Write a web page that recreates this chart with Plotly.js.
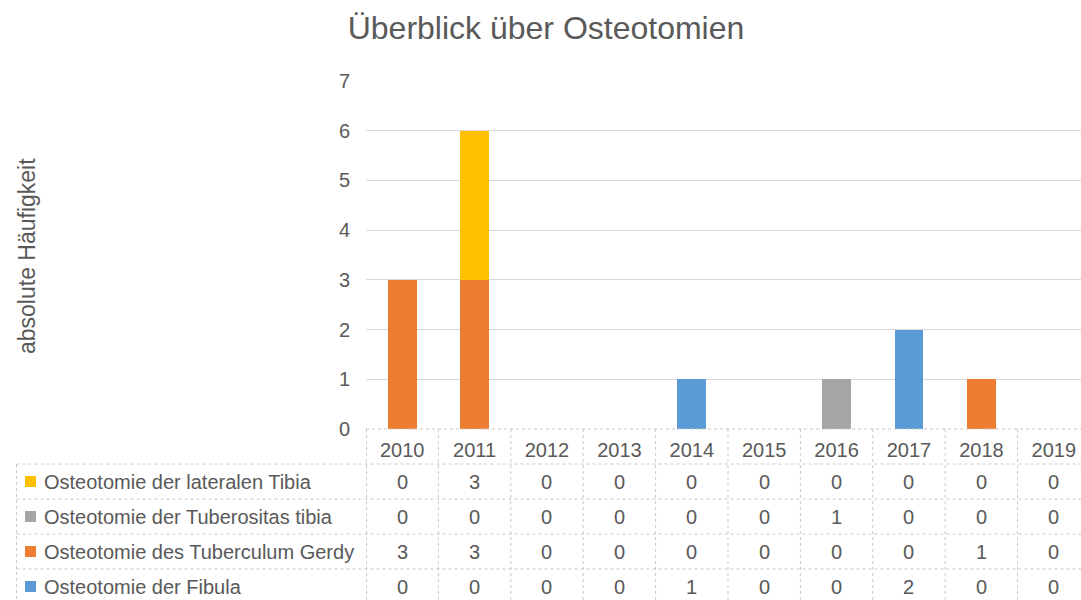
<!DOCTYPE html>
<html>
<head>
<meta charset="utf-8">
<script src="https://cdn.plot.ly/plotly-3.0.1.min.js"></script>
<style>html,body{margin:0;padding:0;background:#fff;}#chart{width:1081px;height:600px;}</style>
</head>
<body>
<div id="chart"></div>
<script>
const years = ['2010','2011','2012','2013','2014','2015','2016','2017','2018','2019'];
const seriesNames = ['Osteotomie der lateralen Tibia','Osteotomie der Tuberositas tibia','Osteotomie des Tuberculum Gerdy','Osteotomie der Fibula'];
const lateralTibia     = [0,3,0,0,0,0,0,0,0,0];
const tuberositasTibia = [0,0,0,0,0,0,1,0,0,0];
const tuberculumGerdy  = [3,3,0,0,0,0,0,0,1,0];
const fibula           = [0,0,0,0,1,0,0,2,0,0];
const seriesColors = ['#FFC000','#A5A5A5','#ED7D31','#5B9BD5'];
const tableRows = [lateralTibia, tuberositasTibia, tuberculumGerdy, fibula];

const FONT = 'Liberation Sans, Arial, sans-serif';
const TXT = '#595959';
const L = 366, R = 1081, T = 81, B = 429, W = 1081, H = 600;
const px = x => (x - L) / (R - L);
const py = y => (B - y) / (B - T);
const rowTop = [429, 464, 499, 534, 569, 604];

// stacking order: bottom to top
const order = [3, 2, 1, 0];
const traces = order.map(i => ({
  type: 'bar', x: years, y: tableRows[i], name: seriesNames[i],
  marker: {color: seriesColors[i], line: {width: 0}}, showlegend: false, hoverinfo: 'skip'
}));

const shapes = [];
const annotations = [];
const lineStyle = {color: '#C8C8C8', width: 1, dash: 'dot'};
shapes.push({type:'line', xref:'paper', yref:'paper', x0:0, x1:1, y0:py(429), y1:py(429), line:lineStyle});
for (let r = 1; r <= 4; r++) {
  shapes.push({type:'line', xref:'paper', yref:'paper', x0:px(16.5), x1:1, y0:py(rowTop[r]), y1:py(rowTop[r]), line:lineStyle});
}
shapes.push({type:'line', xref:'paper', yref:'paper', x0:px(16.5), x1:px(16.5), y0:py(464), y1:py(604), line:lineStyle});
shapes.push({type:'line', xref:'paper', yref:'paper', x0:px(366.5), x1:px(366.5), y0:py(429), y1:py(604), line:lineStyle});
for (let k = 1; k < years.length; k++) {
  shapes.push({type:'line', xref:'x', yref:'paper', x0:k-0.5, x1:k-0.5, y0:py(429), y1:py(604), line:lineStyle});
}
for (let r = 0; r < tableRows.length; r++) {
  const cy = (rowTop[r+1] + rowTop[r+2]) / 2;
  shapes.push({type:'rect', xref:'paper', yref:'paper', x0:px(25), x1:px(36), y0:py(cy+5.5), y1:py(cy-5.5), fillcolor:seriesColors[r], line:{width:0}});
  annotations.push({xref:'paper', yref:'paper', x:px(42), y:py(cy), xanchor:'left', yanchor:'middle', showarrow:false, text:seriesNames[r], font:{family:FONT, size:20, color:TXT}});
  tableRows[r].forEach((v, j) => {
    annotations.push({xref:'x', yref:'paper', x:j, y:py(cy), xanchor:'center', yanchor:'middle', showarrow:false, text:String(v), font:{family:FONT, size:20, color:TXT}});
  });
}
annotations.push({xref:'paper', yref:'paper', x:px(27), y:py(256), xanchor:'center', yanchor:'middle', textangle:-90, showarrow:false, text:'absolute Häufigkeit', font:{family:FONT, size:23, color:TXT}});

const layout = {
  width: W, height: H,
  margin: {l: L, r: W - R, t: T, b: H - B, pad: 0},
  paper_bgcolor: '#fff', plot_bgcolor: '#fff',
  barmode: 'stack', bargap: 0.6,
  font: {family: FONT, color: TXT},
  title: {text: 'Überblick über Osteotomien', font: {family: FONT, size: 32, color: TXT}, xref: 'container', yref: 'container', x: 546/W, xanchor: 'center', y: 1 - 28/H, yanchor: 'middle'},
  xaxis: {type: 'category', categoryarray: years, range: [-0.5, 9.376], showgrid: false, zeroline: false, showline: false,
          ticks: 'outside', ticklen: 3, tickcolor: 'rgba(0,0,0,0)', tickfont: {family: FONT, size: 20, color: TXT}},
  yaxis: {range: [0, 7], dtick: 1, tick0: 0, showgrid: true, gridcolor: '#D9D9D9', gridwidth: 1, zeroline: false, showline: false,
          ticks: 'outside', ticklen: 11, tickcolor: 'rgba(0,0,0,0)', tickfont: {family: FONT, size: 20, color: TXT}},
  shapes: shapes, annotations: annotations
};
Plotly.newPlot('chart', traces, layout, {staticPlot: true, displayModeBar: false});
</script>
</body>
</html>
